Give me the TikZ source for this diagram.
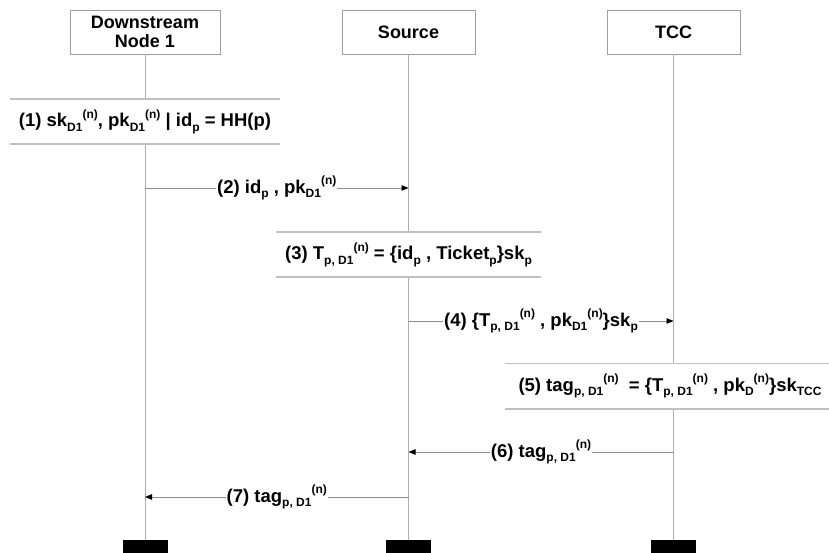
\documentclass[tikz,border=0pt]{standalone}
\usepackage{fontspec}
\setmainfont{Liberation Sans}
\usetikzlibrary{arrows.meta}
% lowered subscript and raised superscript placed one after the other
\newcommand{\lowidx}[1]{\raisebox{-0.45ex}{\fontsize{12}{13}\selectfont #1}}
\newcommand{\highidx}[1]{\raisebox{0.9ex}{\fontsize{12}{13}\selectfont #1}}
\begin{document}
\begin{tikzpicture}[x=1pt,y=-1pt,
  every node/.style={font=\fontsize{18.5}{20}\selectfont\bfseries, inner sep=0pt},
  actor/.style={draw=black!38, line width=0.8pt, fill=white, minimum height=44pt, align=center,
    font=\fontsize{18}{19.5}\selectfont\bfseries},
  lifeline/.style={draw=black!32, line width=0.9pt},
  band/.style={fill=white, minimum height=45pt},
  bandline/.style={draw=black!25, line width=1.6pt},
  endbar/.style={fill=black, minimum width=45pt, minimum height=14pt},
  msg/.style={draw=black!45, line width=0.8pt, -{Triangle[length=7pt,width=5.5pt,color=black]}},
  msglabel/.style={fill=white, inner xsep=1pt, inner ysep=2pt}]
\useasboundingbox (0,0) rectangle (829,553);

% participants
\node[actor, minimum width=150pt] (dn) at (145,32) {Downstream\\Node 1};
\node[actor, minimum width=133pt] (src) at (408.5,32) {Source};
\node[actor, minimum width=133pt] (tcc) at (673.5,32) {TCC};

% end bars at the bottom of each lifeline
\node[endbar] (dnend) at (145,547) {};
\node[endbar] (srcend) at (408.5,547) {};
\node[endbar] (tccend) at (673.5,547) {};

% lifelines
\draw[lifeline] (dn.south) -- (dnend.north);
\draw[lifeline] (src.south) -- (srcend.north);
\draw[lifeline] (tcc.south) -- (tccend.north);

% local computation bands
\node[band, minimum width=270pt] (b1) at (145,121.5) {(1) sk\lowidx{D1}\highidx{(n)}, pk\lowidx{D1}\highidx{(n)} | id\lowidx{p} = HH(p)};
\draw[bandline] (b1.north west) -- (b1.north east);
\draw[bandline] (b1.south west) -- (b1.south east);

\node[band, minimum width=264pt] (b3) at (408.5,254.5) {(3) T\lowidx{p, D1}\highidx{(n)} = \{id\lowidx{p} , Ticket\lowidx{p}\}sk\lowidx{p}};
\draw[bandline] (b3.north west) -- (b3.north east);
\draw[bandline] (b3.south west) -- (b3.south east);

\node[band, minimum width=324pt, anchor=west] (b5) at (505,386) {};
\node (t5) at (670,386) {(5) tag\lowidx{p, D1}\highidx{(n)}\ \ = \{T\lowidx{p, D1}\highidx{(n)} , pk\lowidx{D}\highidx{(n)}\}sk\lowidx{TCC}};
\draw[bandline] (b5.north west) -- (b5.north east);
\draw[bandline] (b5.south west) -- (b5.south east);

% messages
\coordinate (m2a) at (dn.south |- 0,188);
\coordinate (m2b) at (src.south |- 0,188);
\draw[msg] (m2a) -- node[msglabel] {(2) id\lowidx{p} , pk\lowidx{D1}\highidx{(n)}} (m2b);

\coordinate (m4a) at (src.south |- 0,321);
\coordinate (m4b) at (tcc.south |- 0,321);
\draw[msg] (m4a) -- node[msglabel] {(4) \{T\lowidx{p, D1}\highidx{(n)} , pk\lowidx{D1}\highidx{(n)}\}sk\lowidx{p}} (m4b);

\coordinate (m6a) at (tcc.south |- 0,452);
\coordinate (m6b) at (src.south |- 0,452);
\draw[msg] (m6a) -- node[msglabel] {(6) tag\lowidx{p, D1}\highidx{(n)}} (m6b);

\coordinate (m7a) at (src.south |- 0,497);
\coordinate (m7b) at (dn.south |- 0,497);
\draw[msg] (m7a) -- node[msglabel] {(7) tag\lowidx{p, D1}\highidx{(n)}} (m7b);
\end{tikzpicture}
\end{document}
